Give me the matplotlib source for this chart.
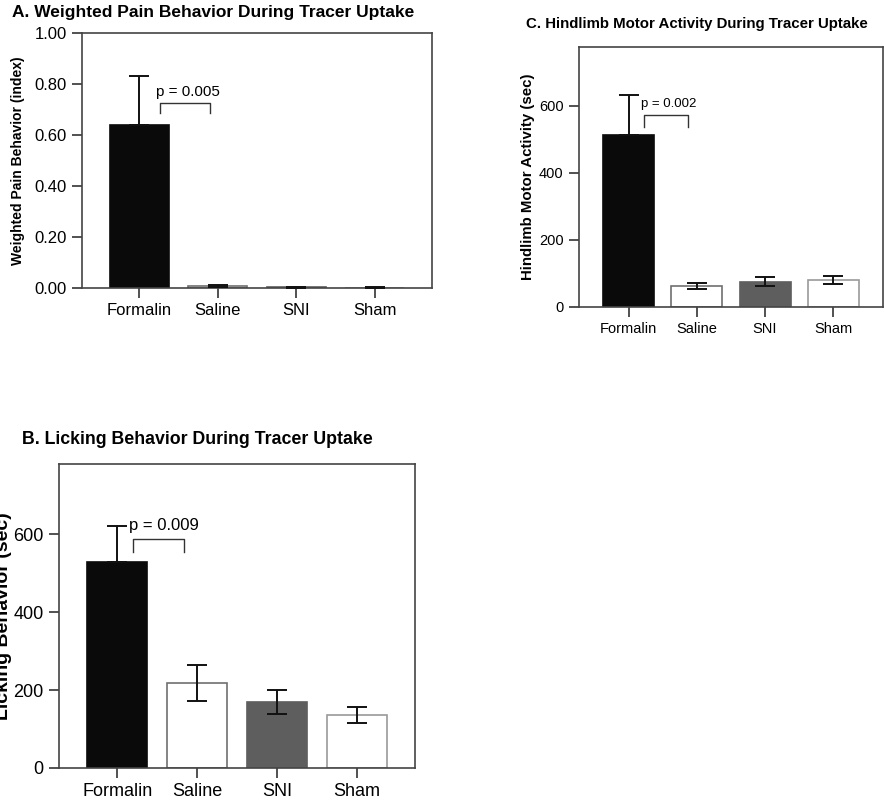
import numpy as np
import matplotlib
matplotlib.use("Agg")
import matplotlib.pyplot as plt

plt.rcParams['font.family'] = ['Liberation Sans', 'DejaVu Sans']

# data
groups = ["Formalin", "Saline", "SNI", "Sham"]

pain_mean = [0.64, 0.007, 0.002, 0.001]
pain_err = [0.19, 0.005, 0.001, 0.001]

lick_mean = [528, 218, 169, 136]
lick_err = [92, 47, 30, 21]

motor_mean = [512, 62, 75, 80]
motor_err = [121, 9, 13, 12]

bar_colors = ["#0a0a0a", "white", "#5e5e5e", "white"]
edge_colors = ["#0a0a0a", "#707070", "#5e5e5e", "#9a9a9a"]

fig = plt.figure(figsize=(8.84, 8.06), dpi=100)


def panel(rect, means, errs, ylim, yticks, yfmt, ylabel, title, title_xy, title_size,
          ylabel_x, ylabel_size, fs, ptext, bracket, capsize=7):
    ax = fig.add_axes(rect)
    x = np.arange(len(groups))
    ax.bar(x, means, width=0.75, color=bar_colors, edgecolor=edge_colors,
           linewidth=1.2, zorder=2)
    # formalin bar hides its own lower whisker
    lower = [0] + list(errs[1:])
    ax.errorbar(x, means, yerr=[lower, errs], fmt="none", ecolor="#111111",
                elinewidth=1.4, capsize=capsize, capthick=1.4, zorder=3)
    ax.set_xlim(-0.73, 3.73)
    ax.set_ylim(*ylim)
    ax.set_yticks(yticks)
    ax.set_yticklabels([yfmt.format(v) for v in yticks])
    ax.set_xticks(x)
    ax.set_xticklabels(groups)
    ax.tick_params(axis="both", direction="out", length=7, width=1.2,
                   color="#333333", labelsize=fs, pad=4)
    for s in ax.spines.values():
        s.set_color("#444444")
        s.set_linewidth(1.2)
    ax.set_ylabel(ylabel, fontsize=ylabel_size, fontweight="bold")
    ax.yaxis.set_label_coords(ylabel_x, 0.5)
    fig.text(title_xy[0], title_xy[1], title, fontsize=title_size,
             fontweight="bold", ha="left", va="center")
    # p-value bracket
    x0, x1, ytop, ybot = bracket
    ax.plot([x0, x0, x1, x1], [ybot, ytop, ytop, ybot], color="#333333",
            linewidth=1.0, zorder=4)
    ax.text(x0 - 0.05, ytop + (ylim[1] - ylim[0]) * 0.045, ptext,
            fontsize=fs - 1, ha="left", va="center")
    return ax


# A
panel([82 / 884, 1 - 288 / 806, 350 / 884, 255 / 806],
      pain_mean, pain_err, (0, 1.0), [0, 0.2, 0.4, 0.6, 0.8, 1.0], "{:.2f}",
      "Weighted Pain Behavior (index)",
      "A. Weighted Pain Behavior During Tracer Uptake", (12 / 884, 1 - 13 / 806), 12.5,
      -0.163, 10, 12, "p = 0.005", (0.26, 0.9, 0.725, 0.686))

# C
panel([579 / 884, 1 - 307 / 806, 304 / 884, 260 / 806],
      motor_mean, motor_err, (0, 775), [0, 200, 400, 600], "{:.0f}",
      "Hindlimb Motor Activity (sec)",
      "C. Hindlimb Motor Activity During Tracer Uptake", (526 / 884, 1 - 24 / 806), 10.8,
      -0.145, 10.8, 10.5, "p = 0.002", (0.23, 0.87, 571, 538), capsize=7)

# B
panel([59 / 884, 1 - 768 / 806, 356 / 884, 304 / 806],
      lick_mean, lick_err, (0, 780), [0, 200, 400, 600], "{:.0f}",
      "Licking Behavior (sec)",
      "B. Licking Behavior During Tracer Uptake", (22 / 884, 1 - 439 / 806), 12.8,
      -0.132, 14, 13, "p = 0.009", (0.2, 0.84, 587, 554))

fig.savefig("out.png", dpi=100)
